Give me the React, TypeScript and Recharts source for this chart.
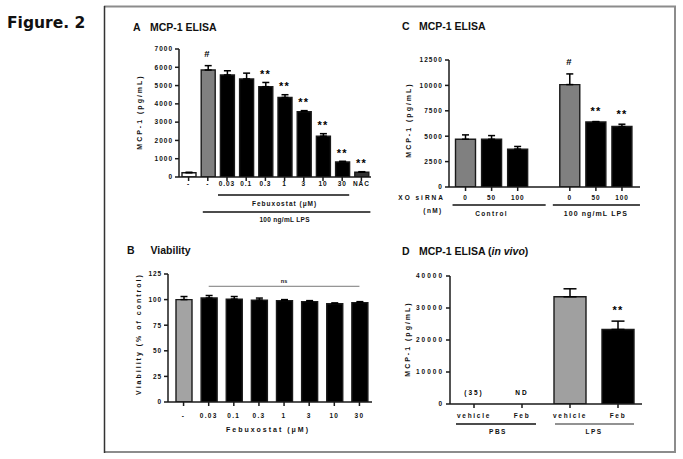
import React from 'react';
import {
  ComposedChart,
  Bar,
  Cell,
  ErrorBar,
  XAxis,
  YAxis,
  Line,
  LabelList,
  ReferenceLine,
} from 'recharts';

// A: MCP-1 ELISA, febuxostat dose response (pg/mL)
const catsA = ['-', '-', '0.03', '0.1', '0.3', '1', '3', '10', '30', 'NAC'];
const meanA = [230, 5850, 5580, 5360, 4940, 4350, 3570, 2230, 820, 260];
const errA = [30, 240, 230, 320, 230, 150, 60, 140, 40, 30];
const sigA = ['', '#', '', '', '**', '**', '**', '**', '**', '**'];
const ticksA = [0, 1000, 2000, 3000, 4000, 5000, 6000, 7000];

// B: viability (% of control)
const catsB = ['-', '0.03', '0.1', '0.3', '1', '3', '10', '30'];
const meanB = [100, 101.5, 100.5, 99.5, 99, 98, 96, 97];
const errB = [3, 2.5, 2.5, 2, 1, 1, 0.8, 1];
const ticksB = [0, 25, 50, 75, 100, 125];
const nsLevelB = 113;

// C: MCP-1 ELISA with XO siRNA (empty slot between the two groups)
const catsC = ['0', '50', '100', '', '0', '50', '100'];
const meanC = [4700, 4700, 3730, null, 10080, 6400, 5950];
const errC = [430, 360, 260, null, 1050, 40, 230];
const sigC = ['', '', '', '', '#', '**', '**'];
const ticksC = [0, 2500, 5000, 7500, 10000, 12500];

// D: MCP-1 ELISA in vivo
const catsD = ['vehicle', 'Feb', 'vehicle', 'Feb'];
const meanD = [0, 0, 33500, 23300];
const errD = [0, 0, 2500, 2600];
const sigD = ['(35)', 'ND', '', '**'];
const ticksD = [0, 10000, 20000, 30000, 40000];

const INK = '#111';
const BLK = '#000';
const fillsA = ['#fff', '#808080', BLK, BLK, BLK, BLK, BLK, BLK, BLK, '#333'];
const fillsB = ['#a3a3a3', BLK, BLK, BLK, BLK, BLK, BLK, BLK];
const fillsC = ['#808080', BLK, BLK, BLK, '#808080', BLK, BLK];
const fillsD = ['#fff', '#fff', '#a0a0a0', BLK];

function rows(cats: string[], mean: (number | null)[], err: (number | null)[], sig?: string[]) {
  return cats.map((c, i) => {
    const m = mean[i];
    const e = err[i] || 0;
    return {
      key: 'k' + i,
      cat: c,
      mean: m,
      err: e ? [0, e] : null,
      top: m == null ? null : m + e,
      sig: sig ? sig[i] : '',
    };
  });
}

type Group = {
  from: number;
  to: number;
  label: string;
  lineY: number;
  labelY: number;
  extL: number;
  extR: number;
  fs: number;
  ls: number;
  color?: string;
};

function makeXTick(cats: string[], step: number, labelY: number, fs: number, ls: number, groups: Group[]) {
  return (props: any) => {
    const { x, y, payload } = props;
    const i = Number(String(payload.value).slice(1));
    const ay = y - 6;
    return (
      <g>
        <text x={x} y={ay + labelY} textAnchor="middle" fontSize={fs} fontWeight={700} letterSpacing={ls} fill={INK}>
          {cats[i]}
        </text>
        {groups
          .filter((g) => g.from === i)
          .map((g) => {
            const x2 = x + (g.to - g.from) * step;
            return (
              <g key={g.label}>
                <line x1={x - g.extL} x2={x2 + g.extR} y1={ay + g.lineY} y2={ay + g.lineY} stroke={g.color ?? INK} strokeWidth={1.5} />
                <text x={(x + x2) / 2} y={ay + g.labelY} textAnchor="middle" fontSize={g.fs} fontWeight={700} letterSpacing={g.ls} fill={INK}>
                  {g.label}
                </text>
              </g>
            );
          })}
      </g>
    );
  };
}

function makeYTick(fs: number, ls: number) {
  return (props: any) => (
    <text x={props.x} y={props.y} dy={fs * 0.36} textAnchor="end" fontSize={fs} fontWeight={700} letterSpacing={ls} fill={INK}>
      {props.payload.value}
    </text>
  );
}

function makeSig(sig: string[], starOff: number, hashOff: number, textOff: number) {
  return (p: any) => {
    const v = p.value || sig[p.index];
    if (!v || p.y == null || isNaN(p.y)) return null;
    const star = v.includes('*');
    const hash = v === '#';
    const off = hash ? hashOff : star ? starOff : textOff;
    return (
      <text
        x={p.x}
        y={p.y - off}
        textAnchor="middle"
        fontSize={star ? 11 : hash ? 9.5 : 6.5}
        fontWeight={700}
        letterSpacing={star ? 1.2 : 2}
        fill={BLK}
      >
        {v}
      </text>
    );
  };
}

type PanelProps = {
  plotLeft: number;
  plotTop: number;
  plotW: number;
  plotH: number;
  yW: number;
  xH: number;
  data: any[];
  fills: string[];
  yTicks: number[];
  max: number;
  barSize: number;
  capW: number;
  xPad?: { left: number; right: number };
  tickKeys?: string[];
  xTick: any;
  yTick: any;
  sig: any;
  children?: React.ReactNode;
};

function Panel(p: PanelProps) {
  const m = { top: 6, right: 4, left: 0, bottom: 0 };
  const axisStyle = { stroke: '#1a1a1a', strokeWidth: 1.5 };
  return (
    <div style={{ position: 'absolute', left: p.plotLeft - p.yW, top: p.plotTop - m.top }}>
      <ComposedChart width={p.yW + p.plotW + m.right} height={m.top + p.plotH + p.xH} data={p.data} margin={m}>
        <XAxis
          dataKey="key"
          type="category"
          height={p.xH}
          interval={0}
          ticks={p.tickKeys}
          tick={p.xTick}
          tickSize={4}
          tickMargin={2}
          axisLine={axisStyle}
          tickLine={axisStyle}
          padding={p.xPad ?? { left: 0, right: 0 }}
        />
        <YAxis
          type="number"
          domain={[0, p.max]}
          ticks={p.yTicks}
          interval={0}
          width={p.yW}
          tick={p.yTick}
          tickSize={4}
          tickMargin={2}
          axisLine={axisStyle}
          tickLine={axisStyle}
          allowDataOverflow
        />
        {p.children}
        <Bar dataKey="mean" barSize={p.barSize} stroke="#1a1a1a" strokeWidth={1.4} isAnimationActive={false}>
          {p.data.map((_, i) => (
            <Cell key={i} fill={p.fills[i]} />
          ))}
          <ErrorBar dataKey="err" width={p.capW} stroke={BLK} strokeWidth={1.5} direction="y" />
        </Bar>
        <Line dataKey="top" stroke="none" dot={false} activeDot={false} legendType="none" isAnimationActive={false}>
          <LabelList dataKey="sig" content={p.sig} />
        </Line>
      </ComposedChart>
    </div>
  );
}

const dataA = rows(catsA, meanA, errA, sigA);
const dataB = rows(catsB, meanB, errB);
const dataC = rows(catsC, meanC, errC, sigC);
const dataD = rows(catsD, meanD, errD, sigD);

const titleStyle = { fontSize: 10.5, fontWeight: 700, fill: INK } as const;
const yLabelStyle = { fontSize: 7, fontWeight: 700, letterSpacing: 2, fill: INK } as const;

function YLabel({ x, y, text }: { x: number; y: number; text: string }) {
  return (
    <text x={x} y={y} dy="0.35em" textAnchor="middle" transform={`rotate(-90 ${x} ${y})`} {...yLabelStyle}>
      {text}
    </text>
  );
}

export default function App() {
  return (
    <div
      style={{
        position: 'absolute',
        left: 0,
        top: 0,
        width: 683,
        height: 459,
        background: '#fff',
        fontFamily: '"Liberation Sans", Arial, sans-serif',
        overflow: 'hidden',
      }}
    >
      <svg width={683} height={459} style={{ position: 'absolute', left: 0, top: 0 }}>
        <text x={7} y={27.5} fontFamily='"DejaVu Sans", sans-serif' fontSize={15.5} fontWeight={700} fill={INK}>
          Figure. 2
        </text>
        <line x1={104} x2={676} y1={6.5} y2={6.5} stroke="#8c8c8c" strokeWidth={2} />
        <line x1={675} x2={675} y1={6} y2={453} stroke="#8c8c8c" strokeWidth={2} />
        <line x1={104} x2={676} y1={452} y2={452} stroke="#8c8c8c" strokeWidth={2} />
        <line x1={104.5} x2={104.5} y1={6} y2={453} stroke="#333" strokeWidth={1.5} />

        <text x={133} y={30.7} {...titleStyle}>A</text>
        <text x={150} y={30.7} {...titleStyle}>MCP-1 ELISA</text>
        <text x={127} y={254.3} {...titleStyle}>B</text>
        <text x={150.5} y={254.3} {...titleStyle}>Viability</text>
        <text x={402} y={29.5} {...titleStyle}>C</text>
        <text x={419} y={29.5} {...titleStyle}>MCP-1 ELISA</text>
        <text x={402} y={255} {...titleStyle}>D</text>
        <text x={419} y={255} {...titleStyle}>
          MCP-1 ELISA (<tspan fontStyle="italic">in vivo</tspan>)
        </text>

        <YLabel x={140} y={112} text="MCP-1 (pg/mL)" />
        <YLabel x={139} y={334} text="Viability (% of control)" />
        <YLabel x={409} y={120} text="MCP-1 (pg/mL)" />
        <YLabel x={408} y={339} text="MCP-1 (pg/mL)" />

        <text x={268} y={431.5} textAnchor="middle" fontSize={7} fontWeight={700} letterSpacing={2} fill={INK}>
          Febuxostat (μM)
        </text>
        <text x={445} y={199.5} textAnchor="end" fontSize={6.5} fontWeight={700} letterSpacing={2} fill={INK}>
          XO siRNA
        </text>
        <text x={433} y={213} textAnchor="middle" fontSize={6.5} fontWeight={700} letterSpacing={1.4} fill={INK}>
          (nM)
        </text>
      </svg>

      <Panel
        plotLeft={179}
        plotTop={49}
        plotW={192}
        plotH={128}
        yW={40}
        xH={50}
        data={dataA}
        fills={fillsA}
        yTicks={ticksA}
        max={7000}
        barSize={14}
        capW={3.5}
        xTick={makeXTick(catsA, 19.2, 9, 6.5, 0.9, [
          { from: 2, to: 8, label: 'Febuxostat (μM)', lineY: 18, labelY: 29.3, extL: 9, extR: 7, fs: 6.5, ls: 1 },
          { from: 1, to: 9, label: '100 ng/mL LPS', lineY: 35, labelY: 45.3, extL: 5, extR: 9, fs: 6.5, ls: 0.3 },
        ])}
        yTick={makeYTick(6.5, 1)}
        sig={makeSig(sigA, 4.4, 9, 9)}
      />

      <Panel
        plotLeft={168}
        plotTop={274}
        plotW={204}
        plotH={128}
        yW={40}
        xH={36}
        data={dataB}
        fills={fillsB}
        yTicks={ticksB}
        max={125}
        barSize={16}
        capW={3.5}
        xPad={{ left: 3, right: 0 }}
        xTick={makeXTick(catsB, 25.1, 15.8, 6.5, 1.3, [])}
        yTick={makeYTick(6.5, 0.9)}
        sig={makeSig([], 4.4, 9, 9)}
      >
        <ReferenceLine
          segment={[
            { x: 'k1', y: nsLevelB },
            { x: 'k7', y: nsLevelB },
          ]}
          stroke="#7a7a7a"
          strokeWidth={1}
          label={{ value: 'ns', position: 'top', offset: 3, fontSize: 5.5, fontWeight: 700, fill: INK }}
        />
      </Panel>

      <Panel
        plotLeft={449}
        plotTop={60}
        plotW={191}
        plotH={127}
        yW={40}
        xH={36}
        data={dataC}
        fills={fillsC}
        yTicks={ticksC}
        max={12500}
        barSize={20}
        capW={3.5}
        xPad={{ left: 3.5, right: 5 }}
        tickKeys={['k0', 'k1', 'k2', 'k4', 'k5', 'k6']}
        xTick={makeXTick(catsC, 26.07, 12.5, 6.5, 0.9, [
          { from: 0, to: 2, label: 'Control', lineY: 18, labelY: 28.5, extL: 13, extR: 28, fs: 6.5, ls: 1.4 },
          { from: 4, to: 6, label: '100 ng/mL LPS', lineY: 18, labelY: 28.5, extL: 17, extR: 18, fs: 7, ls: 1.1 },
        ])}
        yTick={makeYTick(6.5, 1.1)}
        sig={makeSig(sigC, 6.4, 9, 9)}
      />

      <Panel
        plotLeft={450}
        plotTop={276}
        plotW={192}
        plotH={128}
        yW={40}
        xH={36}
        data={dataD}
        fills={fillsD}
        yTicks={ticksD}
        max={40000}
        barSize={32}
        capW={6.5}
        xTick={makeXTick(catsD, 48, 13.8, 6.5, 1.7, [
          { from: 0, to: 1, label: 'PBS', lineY: 20, labelY: 30.3, extL: 18, extR: 14, fs: 6.5, ls: 1.5 },
          { from: 2, to: 3, label: 'LPS', lineY: 20, labelY: 30.3, extL: 15, extR: 16, fs: 6.5, ls: 1.5, color: '#6e6e6e' },
        ])}
        yTick={makeYTick(6.5, 2)}
        sig={makeSig(sigD, 7.2, 9, 9.5)}
      />
    </div>
  );
}
